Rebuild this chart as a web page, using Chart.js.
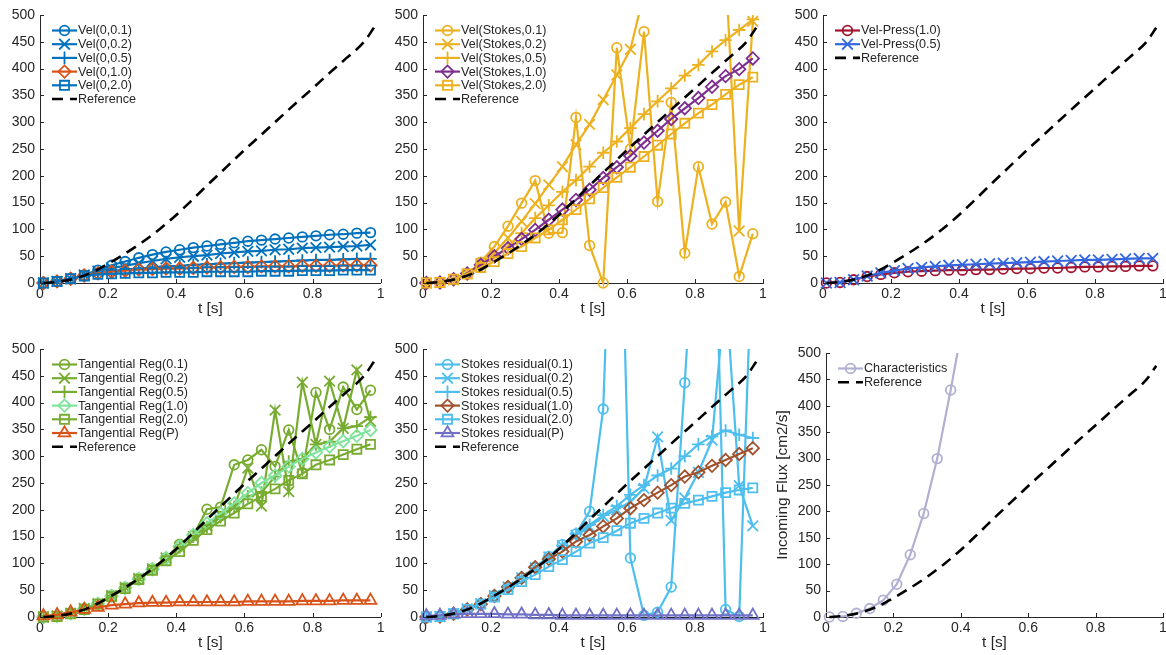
<!DOCTYPE html>
<html>
<head>
<meta charset="utf-8">
<script src="https://cdn.jsdelivr.net/npm/chart.js@4.4.1/dist/chart.umd.min.js"></script>
<style>
  html, body { margin: 0; padding: 0; background: #fff; }
  body { position: relative; width: 1166px; height: 655px; overflow: hidden; }
  canvas { position: absolute; }
</style>
</head>
<body>
<canvas id="c1"></canvas>
<canvas id="c2"></canvas>
<canvas id="c3"></canvas>
<canvas id="c4"></canvas>
<canvas id="c5"></canvas>
<canvas id="c6"></canvas>
<script>
// sample times where markers sit (every 4th step of dt = 0.01)
const T = [0.01, 0.05, 0.09, 0.13, 0.17, 0.21, 0.25, 0.29, 0.33, 0.37, 0.41, 0.45, 0.49,
           0.53, 0.57, 0.61, 0.65, 0.69, 0.73, 0.77, 0.81, 0.85, 0.89, 0.93, 0.97];

// reference inflow
const refT    = [0.01, 0.05, 0.1, 0.15, 0.2, 0.25, 0.3, 0.35, 0.4, 0.45, 0.5, 0.55, 0.6, 0.65, 0.7, 0.75, 0.8, 0.85, 0.9, 0.95, 0.98];
const refFlux = [0, 2, 8, 19, 36, 55, 76, 100, 127, 157, 188, 218, 248, 277, 306, 335, 363, 392, 420, 449, 476];

// velocity BC, zero pressure
const vel01 = [0, 3, 8, 15, 24, 33, 40, 47, 53, 58, 62, 66, 69, 72, 75, 78, 80, 82, 84, 86, 88, 90, 91, 93, 94];
const vel02 = [0, 3, 8, 15, 22, 28, 32, 37, 41, 45, 48, 50, 52, 55, 57, 59, 60, 62, 63, 65, 66, 67, 68, 69, 71];
const vel05 = [0, 3, 8, 14, 19, 22, 25, 27, 29, 31, 32, 34, 35, 36, 37, 38, 39, 40, 41, 42, 43, 43, 44, 45, 45];
const vel10 = [0, 3, 8, 14, 18, 21, 23, 25, 26, 27, 27, 28, 29, 29, 30, 30, 31, 31, 31, 32, 32, 32, 33, 33, 33];
const vel20 = [0, 3, 8, 13, 16, 17, 18, 19, 19, 20, 20, 20, 21, 21, 21, 21, 22, 22, 22, 23, 23, 23, 24, 24, 24];

// velocity BC with Stokes pressure
const sto01 = [0, 1, 6, 16, 39, 68, 106, 149, 191, 93, 94, 309, 70, 0, 439, 250, 469, 152, 337, 56, 217, 110, 151, 12, 92];
const sto02 = [0, 1, 6, 17, 36, 57, 84, 115, 148, 183, 217, 258, 296, 342, 388, 436, 540, 580, 620, 650, 660, 640, 585, 97, 488];
const sto05 = [0, 1, 6, 16, 33, 48, 68, 93, 121, 145, 170, 192, 217, 243, 264, 289, 315, 339, 363, 387, 407, 432, 453, 472, 492];
const sto10 = [0, 1, 7, 18, 34, 50, 65, 82, 99, 118, 137, 155, 174, 196, 216, 237, 262, 284, 306, 326, 345, 366, 386, 399, 419];
const sto20 = [0, 1, 7, 17, 29, 40, 55, 68, 84, 99, 118, 137, 157, 178, 197, 216, 236, 257, 278, 298, 317, 333, 352, 370, 384];

// velocity-pressure coupling
const vpr10 = [0, 1, 6, 12, 16, 19, 21, 22, 23, 24, 24, 25, 25, 26, 27, 27, 28, 28, 29, 30, 30, 31, 31, 32, 32];
const vpr05 = [0, 1, 6, 13, 19, 23, 27, 29, 31, 33, 34, 35, 36, 37, 38, 39, 40, 41, 42, 43, 43, 44, 45, 46, 46];

// tangential regularisation
const tan01 = [0, 2, 7, 16, 25, 40, 55, 72, 90, 110, 136, 152, 201, 205, 284, 293, 312, 281, 349, 269, 419, 350, 429, 387, 423];
const tan02 = [0, 2, 7, 16, 25, 40, 55, 72, 90, 110, 130, 150, 170, 190, 205, 278, 207, 386, 234, 438, 322, 440, 352, 461, 365];
const tan05 = [0, 2, 7, 16, 25, 40, 55, 72, 90, 110, 130, 150, 168, 186, 205, 225, 232, 262, 290, 295, 322, 327, 352, 356, 373];
const tan10 = [0, 2, 7, 15, 25, 39, 54, 71, 89, 110, 132, 153, 175, 193, 212, 231, 250, 264, 281, 295, 307, 318, 328, 338, 349];
const tan20 = [0, 1, 6, 14, 24, 38, 53, 70, 87, 105, 122, 143, 163, 179, 194, 211, 225, 239, 255, 267, 284, 293, 303, 313, 322];
const tanP  = [2, 4, 9, 14, 18, 22, 24, 26, 27, 27, 28, 28, 28, 28, 28, 29, 29, 29, 29, 30, 30, 30, 31, 31, 31];

// Stokes residual
const res01 = [0, 1, 6, 15, 25, 40, 56, 73, 92, 113, 135, 155, 197, 388, 1100, 110, 3, 9, 56, 437, 860, 985, 14, 1, 720];
const res02 = [0, 1, 6, 15, 25, 40, 56, 73, 92, 112, 133, 152, 168, 188, 200, 215, 240, 336, 180, 222, 270, 330, 613, 245, 170];
const res05 = [0, 1, 6, 15, 25, 40, 56, 73, 92, 112, 133, 155, 172, 190, 207, 228, 246, 264, 277, 300, 322, 337, 348, 340, 334];
const res10 = [0, 1, 6, 14, 24, 39, 56, 73, 93, 108, 122, 141, 153, 169, 184, 203, 218, 232, 246, 262, 270, 282, 293, 304, 315];
const res20 = [0, 1, 6, 14, 24, 37, 51, 66, 79, 94, 107, 122, 138, 148, 161, 175, 184, 194, 203, 212, 218, 225, 232, 237, 241];
const resP  = [2, 3, 5, 6, 6, 6, 5, 5, 4, 4, 3, 3, 3, 3, 3, 3, 3, 3, 3, 3, 3, 3, 3, 3, 3];

// characteristics (blows up, last point off the axes)
const charT    = [0.01, 0.05, 0.09, 0.13, 0.17, 0.21, 0.25, 0.29, 0.33, 0.37, 0.41];
const charFlux = [0, 1, 7, 16, 32, 62, 118, 196, 300, 430, 570];

const AXIS = '#262626';
const FONT = '"Liberation Sans", Arial, Helvetica, sans-serif';

const MARK = {
  o: { pointStyle: 'circle', radius: 4.8 },
  x: { pointStyle: 'crossRot', radius: 7.5 },
  '+': { pointStyle: 'cross', radius: 6.3 },
  d: { pointStyle: 'rectRot', radius: 6.2 },
  s: { pointStyle: 'rect', radius: 6.4 },
  '^': { pointStyle: 'triangle', radius: 6.8 }
};

function series(label, times, values, color, mark) {
  const m = MARK[mark];
  return {
    label,
    data: times.map((t, i) => ({ x: t, y: values[i] })),
    borderColor: color,
    backgroundColor: color,
    borderWidth: 2.2,
    pointStyle: m.pointStyle,
    pointRadius: m.radius,
    pointHoverRadius: m.radius,
    pointBorderWidth: 1.8,
    pointBorderColor: color,
    pointBackgroundColor: 'rgba(0,0,0,0)',
    tension: 0
  };
}

function reference() {
  return {
    label: 'Reference',
    data: refT.map((t, i) => ({ x: t, y: refFlux[i] })),
    borderColor: '#000',
    borderWidth: 2.6,
    borderDash: [11, 7],
    pointRadius: 0,
    cubicInterpolationMode: 'monotone',
    isRef: true
  };
}

// legend drawn inside the axes, top-left, with line + marker samples
const insideLegend = {
  id: 'insideLegend',
  afterDraw(chart) {
    const { ctx, chartArea: a } = chart;
    const x0 = a.left + 12;
    ctx.save();
    ctx.font = '12.6px ' + FONT;
    ctx.textBaseline = 'middle';
    chart.data.datasets.forEach((ds, i) => {
      const y = a.top + 15.5 + i * 13.7;
      ctx.strokeStyle = ds.borderColor;
      ctx.lineWidth = ds.borderWidth;
      ctx.setLineDash(ds.borderDash || []);
      ctx.beginPath();
      ctx.moveTo(x0, y);
      ctx.lineTo(x0 + 25, y);
      ctx.stroke();
      ctx.setLineDash([]);
      if (!ds.isRef) {
        ctx.lineWidth = ds.pointBorderWidth;
        ctx.fillStyle = 'rgba(0,0,0,0)';
        Chart.helpers.drawPoint(ctx, {
          pointStyle: ds.pointStyle, radius: ds.pointRadius,
          borderWidth: ds.pointBorderWidth, rotation: 0
        }, x0 + 12.5, y);
      }
      ctx.fillStyle = AXIS;
      ctx.fillText(ds.label, x0 + 26, y + 0.5);
    });
    ctx.restore();
  }
};

// MATLAB-style tick marks pointing into the axes
const inwardTicks = {
  id: 'inwardTicks',
  afterDraw(chart) {
    const { ctx, chartArea: a, scales: { x, y } } = chart;
    ctx.save();
    ctx.strokeStyle = AXIS;
    ctx.lineWidth = 1;
    ctx.beginPath();
    x.ticks.forEach(t => {
      const px = Math.round(x.getPixelForValue(t.value)) + 0.5;
      ctx.moveTo(px, a.bottom);
      ctx.lineTo(px, a.bottom - 4);
    });
    y.ticks.forEach(t => {
      const py = Math.round(y.getPixelForValue(t.value)) + 0.5;
      ctx.moveTo(a.left, py);
      ctx.lineTo(a.left + 4, py);
    });
    ctx.stroke();
    ctx.restore();
  }
};

function makePanel(p) {
  const el = document.getElementById(p.id);
  el.width = p.w;
  el.height = p.h;
  el.style.left = p.left + 'px';
  el.style.top = p.top + 'px';
  p.sets.forEach((ds, i) => { ds.order = -i; ds.clip = { left: 10, right: 10, top: 0, bottom: 10 }; });

  new Chart(el, {
    type: 'line',
    data: { datasets: p.sets },
    options: {
      responsive: false,
      animation: false,
      devicePixelRatio: 1,
      layout: { padding: { top: p.padTop, right: p.padRight, left: 0, bottom: 0 } },
      plugins: { legend: { display: false }, tooltip: { enabled: false } },
      scales: {
        x: {
          type: 'linear', min: 0, max: 1,
          ticks: {
            stepSize: 0.2, color: AXIS, padding: 3, font: { size: 14, family: FONT },
            callback: v => String(Number(v.toFixed(2)))
          },
          grid: { drawOnChartArea: false, drawTicks: false },
          border: { color: AXIS, width: 1 },
          title: { display: true, text: 't [s]', color: AXIS, font: { size: 15.4, family: FONT }, padding: { top: 0, bottom: 3 } },
          afterFit(s) { s.height = 38; s.paddingLeft = 0; s.paddingRight = 0; }
        },
        y: {
          min: 0, max: 500,
          ticks: { stepSize: 50, color: AXIS, padding: 5, font: { size: 14, family: FONT } },
          grid: { drawOnChartArea: false, drawTicks: false },
          border: { color: AXIS, width: 1 },
          title: {
            display: !!p.yTitle, text: p.yTitle || '', color: AXIS,
            font: { size: 15.4, family: FONT }, padding: { top: 7.5, bottom: 0 }
          },
          afterFit(s) { s.width = p.yW; s.paddingTop = 0; s.paddingBottom = 0; }
        }
      }
    },
    plugins: [inwardTicks, insideLegend]
  });
}

const BLUE = '#0072BD', ORANGE = '#D95319', YELLOW = '#EDB120', PURPLE = '#7E2F8E';
const GREEN = '#77AC30', MINT = '#80E39C', CYAN = '#4DBEEE', RED = '#A2142F';

makePanel({
  id: 'c1', left: 0, top: 0, w: 390, h: 321, yW: 40, padTop: 15, padRight: 9,
  sets: [
    series('Vel(0,0.1)', T, vel01, BLUE, 'o'),
    series('Vel(0,0.2)', T, vel02, BLUE, 'x'),
    series('Vel(0,0.5)', T, vel05, BLUE, '+'),
    series('Vel(0,1.0)', T, vel10, ORANGE, 'd'),
    series('Vel(0,2.0)', T, vel20, BLUE, 's'),
    reference()
  ]
});

makePanel({
  id: 'c2', left: 383, top: 0, w: 390, h: 321, yW: 40, padTop: 15, padRight: 10,
  sets: [
    series('Vel(Stokes,0.1)', T, sto01, YELLOW, 'o'),
    series('Vel(Stokes,0.2)', T, sto02, YELLOW, 'x'),
    series('Vel(Stokes,0.5)', T, sto05, YELLOW, '+'),
    series('Vel(Stokes,1.0)', T, sto10, PURPLE, 'd'),
    series('Vel(Stokes,2.0)', T, sto20, YELLOW, 's'),
    reference()
  ]
});

// right-hand panels run past the page edge so the last tick label is cut like a figure border
makePanel({
  id: 'c3', left: 783, top: 0, w: 400, h: 321, yW: 40, padTop: 15, padRight: 20,
  sets: [
    series('Vel-Press(1.0)', T, vpr10, RED, 'o'),
    series('Vel-Press(0.5)', T, vpr05, '#3466E0', 'x'),
    reference()
  ]
});

makePanel({
  id: 'c4', left: 0, top: 330, w: 390, h: 325, yW: 40, padTop: 19, padRight: 9,
  sets: [
    series('Tangential Reg(0.1)', T, tan01, GREEN, 'o'),
    series('Tangential Reg(0.2)', T, tan02, GREEN, 'x'),
    series('Tangential Reg(0.5)', T, tan05, GREEN, '+'),
    series('Tangential Reg(1.0)', T, tan10, MINT, 'd'),
    series('Tangential Reg(2.0)', T, tan20, GREEN, 's'),
    series('Tangential Reg(P)', T, tanP, ORANGE, '^'),
    reference()
  ]
});

makePanel({
  id: 'c5', left: 383, top: 330, w: 390, h: 325, yW: 40, padTop: 19, padRight: 10,
  sets: [
    series('Stokes residual(0.1)', T, res01, CYAN, 'o'),
    series('Stokes residual(0.2)', T, res02, CYAN, 'x'),
    series('Stokes residual(0.5)', T, res05, CYAN, '+'),
    series('Stokes residual(1.0)', T, res10, '#A0522D', 'd'),
    series('Stokes residual(2.0)', T, res20, CYAN, 's'),
    series('Stokes residual(P)', T, resP, '#7171C6', '^'),
    reference()
  ]
});

makePanel({
  id: 'c6', left: 766, top: 330, w: 417, h: 325, yW: 60, padTop: 23, padRight: 20,
  yTitle: 'Incoming Flux [cm2/s]',
  sets: [
    series('Characteristics', charT, charFlux, '#B1B0D2', 'o'),
    reference()
  ]
});
</script>
</body>
</html>
